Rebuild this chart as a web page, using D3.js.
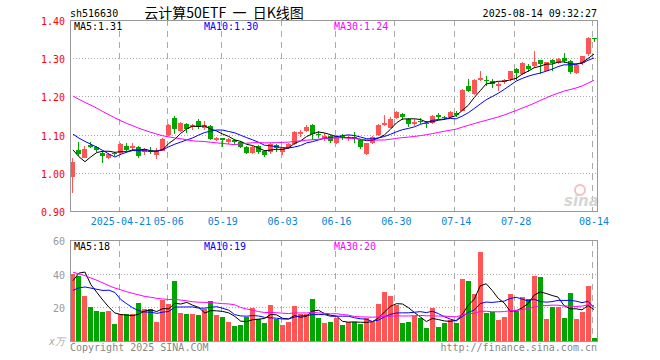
<!DOCTYPE html>
<html>
<head>
<meta charset="utf-8">
<script src="https://cdn.jsdelivr.net/npm/d3@7"></script>
<style>
body { margin: 0; background: #fff; }
svg text { font-family: "DejaVu Sans Mono", monospace; font-size: 10px; white-space: pre; }
</style>
</head>
<body>
<div id="chart"></div>
<script>
// trading days shown on the chart
var dates = [
  "2025-04-09","2025-04-10","2025-04-11","2025-04-14","2025-04-15","2025-04-16","2025-04-17","2025-04-18",
  "2025-04-21","2025-04-22","2025-04-23","2025-04-24","2025-04-25","2025-04-28","2025-04-29","2025-04-30",
  "2025-05-06","2025-05-07","2025-05-08","2025-05-09","2025-05-12","2025-05-13","2025-05-14","2025-05-15",
  "2025-05-16","2025-05-19","2025-05-20","2025-05-21","2025-05-22","2025-05-23","2025-05-26","2025-05-27",
  "2025-05-28","2025-05-29","2025-05-30","2025-06-03","2025-06-04","2025-06-05","2025-06-06","2025-06-09",
  "2025-06-10","2025-06-11","2025-06-12","2025-06-13","2025-06-16","2025-06-17","2025-06-18","2025-06-19",
  "2025-06-20","2025-06-23","2025-06-24","2025-06-25","2025-06-26","2025-06-27","2025-06-30","2025-07-01",
  "2025-07-02","2025-07-03","2025-07-04","2025-07-07","2025-07-08","2025-07-09","2025-07-10","2025-07-11",
  "2025-07-14","2025-07-15","2025-07-16","2025-07-17","2025-07-18","2025-07-21","2025-07-22","2025-07-23",
  "2025-07-24","2025-07-25","2025-07-28","2025-07-29","2025-07-30","2025-07-31","2025-08-01","2025-08-04",
  "2025-08-05","2025-08-06","2025-08-07","2025-08-08","2025-08-11","2025-08-12","2025-08-13","2025-08-14"
];

var open = [
  0.990,1.060,1.040,1.073,1.067,1.053,1.038,1.051,1.051,1.071,1.066,1.068,1.054,1.058,1.047,1.058,
  1.099,1.143,1.109,1.129,1.119,1.136,1.118,1.123,1.085,1.090,1.081,1.085,1.080,1.068,1.052,1.070,
  1.057,1.055,1.073,1.055,1.064,1.075,1.102,1.109,1.125,1.101,1.090,1.097,1.079,1.097,1.090,1.095,
  1.086,1.049,1.077,1.099,1.126,1.118,1.143,1.154,1.140,1.128,1.136,1.130,1.130,1.151,1.147,1.145,
  1.156,1.163,1.228,1.206,1.243,1.244,1.241,1.228,1.237,1.246,1.272,1.259,1.280,1.280,1.294,1.267,
  1.294,1.287,1.301,1.292,1.261,1.287,1.311,1.353
];
var high = [
  1.038,1.081,1.071,1.080,1.069,1.057,1.053,1.055,1.077,1.077,1.079,1.069,1.066,1.068,1.064,1.090,
  1.128,1.149,1.134,1.131,1.128,1.140,1.135,1.124,1.093,1.092,1.092,1.088,1.083,1.071,1.071,1.072,
  1.060,1.077,1.075,1.066,1.077,1.110,1.112,1.125,1.127,1.109,1.103,1.099,1.099,1.101,1.099,1.106,
  1.088,1.079,1.097,1.128,1.151,1.147,1.163,1.156,1.143,1.140,1.143,1.136,1.151,1.156,1.150,1.163,
  1.163,1.220,1.246,1.246,1.267,1.254,1.246,1.239,1.246,1.267,1.274,1.289,1.285,1.320,1.296,1.291,
  1.298,1.300,1.314,1.296,1.286,1.307,1.355,1.353
];
var low = [
  0.948,1.045,1.038,1.064,1.054,1.026,1.035,1.043,1.047,1.058,1.058,1.040,1.047,1.049,1.036,1.057,
  1.096,1.101,1.106,1.105,1.112,1.114,1.112,1.087,1.082,1.068,1.075,1.073,1.064,1.048,1.049,1.048,
  1.041,1.048,1.055,1.047,1.062,1.074,1.095,1.108,1.086,1.090,1.083,1.077,1.075,1.086,1.082,1.079,
  1.062,1.047,1.075,1.096,1.123,1.116,1.141,1.138,1.119,1.123,1.127,1.116,1.128,1.140,1.138,1.143,
  1.147,1.161,1.212,1.204,1.240,1.226,1.222,1.213,1.232,1.241,1.244,1.257,1.263,1.274,1.259,1.266,
  1.267,1.285,1.287,1.259,1.259,1.283,1.305,1.342
];
var close = [
  1.029,1.048,1.062,1.067,1.060,1.045,1.048,1.048,1.075,1.060,1.070,1.044,1.060,1.054,1.058,1.088,
  1.125,1.115,1.131,1.115,1.125,1.119,1.125,1.088,1.090,1.085,1.088,1.080,1.068,1.052,1.068,1.055,
  1.047,1.075,1.064,1.064,1.075,1.108,1.106,1.121,1.101,1.098,1.096,1.083,1.095,1.090,1.095,1.091,
  1.067,1.077,1.095,1.125,1.131,1.141,1.160,1.147,1.127,1.132,1.132,1.127,1.150,1.147,1.143,1.158,
  1.151,1.218,1.213,1.244,1.248,1.241,1.232,1.233,1.244,1.266,1.261,1.287,1.272,1.289,1.285,1.290,
  1.287,1.298,1.292,1.263,1.283,1.305,1.353,1.350
];
// volume, 万手
var volume = [
  40.0,38.8,27.0,20.4,17.8,17.2,17.8,10.0,15.8,15.8,15.8,22.6,19.0,19.0,11.2,24.4,
  21.8,35.8,16.6,16.0,16.0,15.4,19.0,23.8,15.4,14.2,11.2,8.8,9.4,14.2,19.6,13.0,
  10.6,21.4,13.0,9.4,11.2,20.8,16.0,16.0,25.0,13.6,10.6,11.2,13.6,9.4,11.2,11.4,
  10.0,13.4,11.4,22.0,29.2,26.8,21.4,10.6,11.2,14.8,13.6,7.6,19.6,8.2,10.6,12.4,
  10.6,37.0,35.8,28.0,52.6,16.6,17.2,12.4,14.2,28.0,17.8,26.2,25.0,38.8,38.2,13.0,
  20.2,20.2,13.6,28.6,13.0,17.2,32.8,1.6
];

// 29 sessions before the window, estimated so the moving averages
// start where the picture's lines start
var priorClose = [
  1.31,1.30,1.29,1.30,1.31,1.29,1.30,1.30,
  1.27,1.25,1.24,1.22,1.21,1.20,1.22,1.21,1.20,1.19,1.20,1.21,
  1.150,1.148,1.143,1.138,1.131,
  1.138,1.127,1.002,1.004
];
var priorVolume = [
  68,60,62,58,65,66,52,48,50,45,49,47,34,30,36,31,33,30,29,32,
  24,22,27,25,24,16,24,58,41
];

var tickDates = ["2025-04-21","2025-05-06","2025-05-19","2025-06-03","2025-06-16",
                 "2025-06-30","2025-07-14","2025-07-28","2025-08-14"];
var tickLabels = ["2025-04-21","05-06","05-19","06-03","06-16","06-30","07-14","07-28","08-14"];
var priceTicks = [0.90, 1.00, 1.10, 1.20, 1.30, 1.40];
var volumeTicks = [20, 40, 60];

var maPeriods = [5, 10, 30];
var maColors = ["#000000", "#0000ff", "#ff00ff"];
var priceLegend = ["MA5:1.31", "MA10:1.30", "MA30:1.24"];
var volumeLegend = ["MA5:18", "MA10:19", "MA30:20"];

var upColor = "#ff5555", downColor = "#00a600";

function movingAverage(values, n, skip) {
  return d3.range(skip, values.length).map(function(i) {
    return d3.mean(values.slice(Math.max(0, i - n + 1), i + 1));
  });
}

var left = 70, right = 597;
var priceTop = 20, priceBottom = 211;
var volTop = 240, volBottom = 341;

var svg = d3.select("#chart").append("svg")
  .attr("width", 660)
  .attr("height", 360);

var x = d3.scaleBand().domain(dates).range([left, right]);
var bw = x.bandwidth();
function xc(d) { return x(d) + bw / 2; }

var y = d3.scaleLinear().domain([0.9, 1.4]).range([priceBottom, priceTop]);
var vy = d3.scaleLinear().domain([0, 60]).range([volBottom, volTop]);

// ---- grids
svg.append("g")
  .selectAll("line").data(priceTicks.slice(1, -1)).enter().append("line")
  .attr("x1", left).attr("x2", right)
  .attr("y1", d => Math.round(y(d)) + 0.5).attr("y2", d => Math.round(y(d)) + 0.5)
  .attr("stroke", "#aaa").attr("stroke-dasharray", "1,2");

svg.append("g")
  .selectAll("line").data([20, 40]).enter().append("line")
  .attr("x1", left).attr("x2", right)
  .attr("y1", d => Math.round(vy(d)) + 0.5).attr("y2", d => Math.round(vy(d)) + 0.5)
  .attr("stroke", "#aaa").attr("stroke-dasharray", "1,2");

[[priceTop, priceBottom], [volTop, volBottom]].forEach(function(p) {
  svg.append("g")
    .selectAll("line").data(tickDates).enter().append("line")
    .attr("x1", d => Math.round(x(d)) + 1.5).attr("x2", d => Math.round(x(d)) + 1.5)
    .attr("y1", p[0]).attr("y2", p[1])
    .attr("stroke", "#aaa").attr("stroke-dasharray", "6,5");
});

// watermark
svg.append("circle")
  .attr("cx", 580).attr("cy", 190).attr("r", 5)
  .attr("fill", "none").attr("stroke", "#f6c0c0").attr("stroke-width", 2);
svg.append("text")
  .attr("x", 564).attr("y", 206)
  .style("font-family", "DejaVu Sans").style("font-size", "15px")
  .style("font-style", "italic").style("font-weight", "bold")
  .attr("fill", "#d6d6d6")
  .text("sina");

// ---- candles
var candles = svg.append("g").attr("shape-rendering", "crispEdges")
  .selectAll("g").data(dates).enter().append("g");

candles.append("line")
  .attr("x1", d => Math.floor(xc(d)) + 0.5).attr("x2", d => Math.floor(xc(d)) + 0.5)
  .attr("y1", (d, i) => y(high[i])).attr("y2", (d, i) => y(low[i]))
  .attr("stroke", (d, i) => close[i] >= open[i] ? upColor : downColor);

candles.append("rect")
  .attr("x", d => Math.floor(xc(d)) - 2)
  .attr("width", 5)
  .attr("y", (d, i) => y(Math.max(open[i], close[i])))
  .attr("height", (d, i) => Math.max(1, Math.abs(y(open[i]) - y(close[i]))))
  .attr("fill", (d, i) => close[i] >= open[i] ? upColor : downColor);

// ---- volume bars
svg.append("g").attr("shape-rendering", "crispEdges")
  .selectAll("rect").data(dates).enter().append("rect")
  .attr("x", d => Math.floor(xc(d)) - 2)
  .attr("width", 5)
  .attr("y", (d, i) => vy(volume[i]))
  .attr("height", (d, i) => volBottom - vy(volume[i]))
  .attr("fill", (d, i) => close[i] >= open[i] ? upColor : downColor);

// ---- moving averages
var allClose = priorClose.concat(close);
var allVolume = priorVolume.concat(volume);

maPeriods.forEach(function(n, k) {
  var pm = movingAverage(allClose, n, priorClose.length);
  var vm = movingAverage(allVolume, n, priorVolume.length);

  svg.append("path")
    .attr("fill", "none").attr("stroke", maColors[k]).attr("stroke-width", 1)
    .attr("d", d3.line().x((d, i) => xc(dates[i])).y(d => y(d))(pm));

  svg.append("path")
    .attr("fill", "none").attr("stroke", maColors[k]).attr("stroke-width", 1)
    .attr("d", d3.line().x((d, i) => xc(dates[i])).y(d => vy(d))(vm));
});

// ---- frames
svg.append("rect")
  .attr("x", left + 0.5).attr("y", priceTop + 0.5)
  .attr("width", right - left).attr("height", priceBottom - priceTop)
  .attr("fill", "none").attr("stroke", "#999");
svg.append("rect")
  .attr("x", left + 0.5).attr("y", volTop + 0.5)
  .attr("width", right - left).attr("height", volBottom - volTop)
  .attr("fill", "none").attr("stroke", "#999");

// ---- axes
var yAxis = svg.append("g")
  .attr("transform", "translate(" + (left - 4) + ",0)")
  .call(d3.axisLeft(y).tickValues(priceTicks).tickFormat(d3.format(".2f")).tickSize(0).tickPadding(1));
yAxis.select(".domain").remove();
yAxis.selectAll("text").attr("fill", "#ff0000").attr("dy", "0.45em")
  .style("font-family", "DejaVu Sans Mono").style("font-size", "10px");

var vAxis = svg.append("g")
  .attr("transform", "translate(" + (left - 4) + ",0)")
  .call(d3.axisLeft(vy).tickValues(volumeTicks).tickSize(0).tickPadding(1));
vAxis.select(".domain").remove();
vAxis.selectAll("text").attr("fill", "#999").attr("dy", "0.45em")
  .style("font-family", "DejaVu Sans Mono").style("font-size", "10px");

var xAxis = svg.append("g")
  .attr("transform", "translate(0," + priceBottom + ")")
  .call(d3.axisBottom(x).tickValues(tickDates)
    .tickFormat(function(d, i) { return tickLabels[i]; }).tickSize(0).tickPadding(7));
xAxis.select(".domain").remove();
xAxis.selectAll("text").attr("fill", "#0a84d6")
  .style("font-family", "DejaVu Sans Mono").style("font-size", "10px");

// ---- labels
svg.append("text").attr("x", 70).attr("y", 17).attr("fill", "#000").text("sh516630");
svg.append("text").attr("x", 224).attr("y", 18).attr("text-anchor", "middle")
  .style("font-family", "Noto Sans CJK SC").style("font-size", "14px")
  .attr("fill", "#000").text("云计算50ETF  一  日K线图");
svg.append("text").attr("x", right).attr("y", 17).attr("text-anchor", "end")
  .attr("fill", "#000").text("2025-08-14 09:32:27");

var legendX = [74, 204, 334];
priceLegend.forEach(function(t, k) {
  svg.append("text").attr("x", legendX[k]).attr("y", 30).attr("fill", maColors[k]).text(t);
});
volumeLegend.forEach(function(t, k) {
  svg.append("text").attr("x", legendX[k]).attr("y", 250).attr("fill", maColors[k]).text(t);
});

svg.append("text").attr("x", 49).attr("y", 345).attr("fill", "#aaa")
  .style("font-style", "italic").text("x万");
svg.append("text").attr("x", 70).attr("y", 351).attr("fill", "#888").text("Copyright 2025 SINA.COM");
svg.append("text").attr("x", right).attr("y", 351).attr("text-anchor", "end")
  .attr("fill", "#888").text("http://finance.sina.com.cn");
</script>
</body>
</html>
